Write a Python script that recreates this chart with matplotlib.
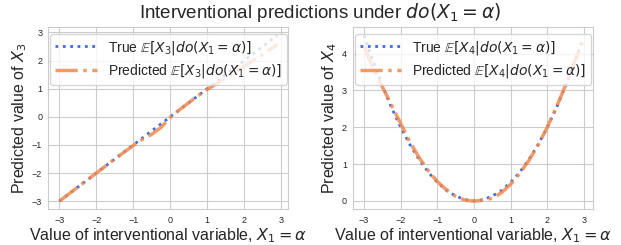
import numpy as np
import matplotlib
matplotlib.use('Agg')
import matplotlib.pyplot as plt
import seaborn as sns

sns.set_style('whitegrid')
plt.rcParams['font.family'] = ['Liberation Sans', 'DejaVu Sans']

# Left panel: X3 under do(X1 = alpha)
x3 = [-3, -2.5, -2, -1.5, -1, -0.75, -0.5, -0.25, 0, 0.25, 0.5, 0.75, 1, 1.25, 1.5, 2, 2.5, 2.9]
true3 = [-3, -2.5, -2, -1.5, -1, -0.75, -0.5, -0.25, 0, 0.25, 0.5, 0.75, 1, 1.25, 1.5, 2, 2.5, 2.9]
pred3 = [-3, -2.5, -2, -1.5, -1.02, -0.8, -0.62, -0.38, -0.02, 0.25, 0.5, 0.75, 0.97, 1.18, 1.38, 1.8, 2.22, 2.58]

# Right panel: X4 under do(X1 = alpha)
x4 = [-3, -2.75, -2.5, -2.25, -2, -1.75, -1.5, -1.25, -1, -0.75, -0.5, -0.25, 0,
      0.25, 0.5, 0.75, 1, 1.25, 1.5, 1.75, 2, 2.25, 2.5, 2.75, 2.95]
true4 = [4.5, 3.78, 3.13, 2.53, 2.0, 1.53, 1.13, 0.78, 0.5, 0.28, 0.13, 0.03, 0,
         0.03, 0.13, 0.28, 0.5, 0.78, 1.13, 1.53, 2.0, 2.53, 3.13, 3.78, 4.35]
pred4 = [4.2, 3.6, 3.1, 2.6, 2.1, 1.6, 1.18, 0.82, 0.52, 0.3, 0.12, 0.02, -0.01,
         0.02, 0.07, 0.22, 0.45, 0.75, 1.1, 1.52, 2.0, 2.55, 3.15, 3.8, 4.3]

blue = '#4169e1'
orange = '#f08a50'

fig, axes = plt.subplots(1, 2, figsize=(6.21, 2.45), dpi=100)
panels = [(axes[0], x3, true3, pred3, '3'), (axes[1], x4, true4, pred4, '4')]
for ax, x, t, p, k in panels:
    ax.plot(x, t, ':', color=blue, lw=2, label=r'True $\mathbb{E}[X_%s|do(X_1=\alpha)]$' % k)
    ax.plot(x, p, '-.', color=orange, lw=2.5, alpha=0.85,
            label=r'Predicted $\mathbb{E}[X_%s|do(X_1=\alpha)]$' % k)
    ax.set_xlabel(r'Value of interventional variable, $X_1 = \alpha$', fontsize=11.5, labelpad=1)
    ax.set_ylabel('Predicted value of $X_%s$' % k, fontsize=11.5, labelpad=2)
    ax.set_xticks([-3, -2, -1, 0, 1, 2, 3])
    ax.tick_params(labelsize=6.5, pad=1)
    ax.legend(loc='upper center', fontsize=10, handlelength=3, borderpad=0.35,
              labelspacing=0.4, framealpha=0.8)

axes[0].set_yticks([-3, -2, -1, 0, 1, 2, 3])
axes[1].set_yticks([0, 1, 2, 3, 4])

fig.suptitle(r'Interventional predictions under $do(X_1 = \alpha)$', fontsize=13.5, x=0.515, y=0.995)
fig.subplots_adjust(left=0.078, right=0.955, bottom=0.145, top=0.89, wspace=0.27)
fig.savefig('out.png', dpi=100)
